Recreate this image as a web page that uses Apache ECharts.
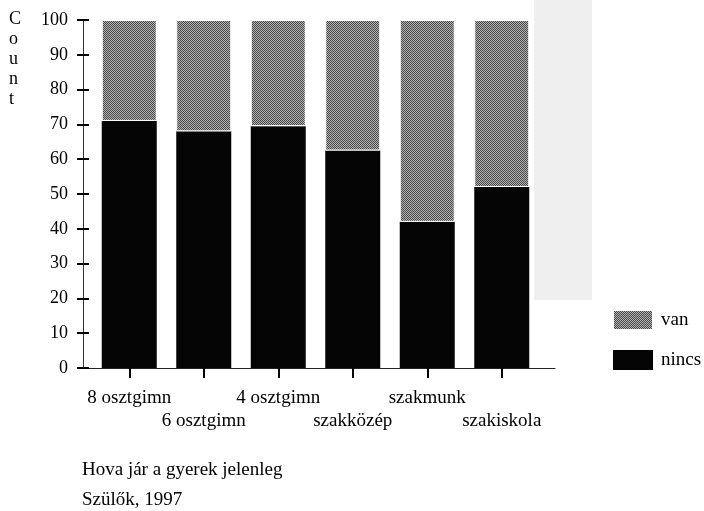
<!DOCTYPE html>
<html>
<head>
<meta charset="utf-8">
<script src="https://cdn.jsdelivr.net/npm/echarts@6/dist/echarts.min.js"></script>
<style>html,body{margin:0;padding:0;background:#fff}#c{width:704px;height:511px}</style>
</head>
<body>
<div id="c"></div>
<script>
const categories = ['8 osztgimn', '6 osztgimn', '4 osztgimn', 'szakközép', 'szakmunk', 'szakiskola'];
const nincs = [71, 68, 69.5, 62.5, 42, 52];
const van = [29, 32, 30.5, 37.5, 58, 48];
const yTicks = [0, 10, 20, 30, 40, 50, 60, 70, 80, 90, 100];

const FONT = '"Liberation Serif", "DejaVu Serif", serif';

const pc = document.createElement('canvas');
pc.width = 2; pc.height = 2;
const g = pc.getContext('2d');
g.fillStyle = '#b4b4b4'; g.fillRect(0, 0, 2, 2);
g.fillStyle = '#474747'; g.fillRect(0, 0, 1, 1); g.fillRect(1, 1, 1, 1);
const vanColor = { image: pc, repeat: 'repeat' };

const chart = echarts.init(document.getElementById('c'), null, { renderer: 'canvas' });
chart.setOption({
  animation: false,
  backgroundColor: '#fff',
  textStyle: { fontFamily: FONT, color: '#000' },
  grid: [
    { left: 92, top: 20, right: 165, bottom: 143 },
    { left: 83, top: 20, right: 149, bottom: 143 }
  ],
  graphic: [
    { type: 'rect', z: -10, silent: true, shape: { x: 534, y: 0, width: 58, height: 300 }, style: { fill: '#efefef' } },
    { type: 'text', left: 9, top: 9, style: { text: 'C\no\nu\nn\nt', font: '18px ' + FONT, lineHeight: 20, fill: '#000', align: 'center' } },
    { type: 'text', left: 82, top: 461, style: { text: 'Hova jár a gyerek jelenleg', font: '19px ' + FONT, fill: '#000' } },
    { type: 'text', left: 82, top: 491, style: { text: 'Szülők, 1997', font: '19px ' + FONT, fill: '#000' } }
  ],
  legend: {
    orient: 'vertical', left: 612, top: 309, padding: 0,
    icon: 'rect',
    itemWidth: 40, itemHeight: 20, itemGap: 19,
    data: ['van', 'nincs'],
    textStyle: { fontFamily: FONT, fontSize: 19, color: '#000', padding: [0, 0, 0, 3] }
  },
  xAxis: [
    {
      type: 'category', gridIndex: 0, data: categories,
      axisLine: { show: false },
      axisTick: { show: true, alignWithLabel: true, length: 10, lineStyle: { color: '#000', width: 2 } },
      axisLabel: {
        interval: 0, margin: 19, fontFamily: FONT, fontSize: 19, color: '#000', lineHeight: 23,
        formatter: (v, i) => (i % 2 ? '\n' + v : v)
      }
    },
    {
      type: 'value', gridIndex: 1, min: 0, max: 1,
      splitLine: { show: false },
      axisLine: { show: true, onZero: false, lineStyle: { color: '#222', width: 1 } },
      axisTick: { show: false }, axisLabel: { show: false }
    }
  ],
  yAxis: [
    {
      type: 'value', gridIndex: 0, min: 0, max: 100, interval: 10,
      show: false
    },
    {
      type: 'value', gridIndex: 1, position: 'left', min: 0, max: 100, interval: 10,
      splitLine: { show: false },
      axisLine: { show: true, onZero: false, lineStyle: { color: '#333', width: 1 } },
      axisTick: { show: true, length: 6, lineStyle: { color: '#000', width: 2 } },
      axisLabel: { margin: 15, fontFamily: FONT, fontSize: 18, color: '#000', customValues: yTicks }
    },
    {
      type: 'value', gridIndex: 1, position: 'left', min: 0, max: 100, interval: 10,
      splitLine: { show: false },
      axisLine: { show: false, onZero: false },
      axisTick: { show: true, inside: true, length: 6, lineStyle: { color: '#000', width: 2 } },
      axisLabel: { show: false }
    }
  ],
  series: [
    {
      name: 'nincs', type: 'bar', stack: 's', barWidth: 55, xAxisIndex: 0, yAxisIndex: 0,
      itemStyle: { color: '#050505' },
      data: nincs
    },
    {
      name: 'van', type: 'bar', stack: 's', barWidth: 55, xAxisIndex: 0, yAxisIndex: 0,
      itemStyle: { color: vanColor, borderColor: '#fff', borderWidth: 1 },
      data: van
    }
  ]
});
</script>
</body>
</html>
